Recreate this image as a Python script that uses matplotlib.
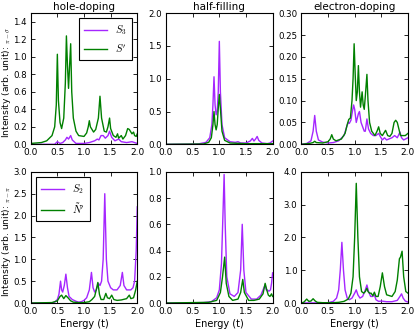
import matplotlib
matplotlib.use('Agg')
import matplotlib.pyplot as plt

# ---- top row: pi-sigma ----
# hole-doping
hd_s3_x = [0.0, 0.45, 0.5, 0.55, 0.6, 0.65, 0.68, 0.71, 0.75, 0.78, 0.85, 1.0, 1.1, 1.2, 1.25, 1.28,
           1.32, 1.36, 1.4, 1.45, 1.48, 1.52, 1.58, 1.65, 1.7, 1.8, 1.9, 1.95, 2.0]
hd_s3_y = [0.0, 0.0, 0.03, 0.01, 0.02, 0.05, 0.08, 0.06, 0.1, 0.05, 0.01, 0.01, 0.02, 0.04, 0.06, 0.05,
           0.1, 0.1, 0.07, 0.1, 0.15, 0.08, 0.04, 0.06, 0.03, 0.02, 0.03, 0.02, 0.01]
hd_sp_x = [0.0, 0.2, 0.3, 0.4, 0.45, 0.48, 0.5, 0.52, 0.55, 0.58, 0.62, 0.65, 0.67, 0.69, 0.71, 0.73,
           0.75, 0.77, 0.8, 0.85, 0.9, 1.0, 1.05, 1.08, 1.1, 1.12, 1.15, 1.18, 1.22, 1.27, 1.3, 1.33,
           1.38, 1.42, 1.45, 1.48, 1.5, 1.55, 1.6, 1.63, 1.65, 1.7, 1.73, 1.78, 1.82, 1.85, 1.9, 1.93,
           1.95, 1.98, 2.0]
hd_sp_y = [0.01, 0.02, 0.04, 0.1, 0.2, 0.45, 1.03, 0.5, 0.25, 0.18, 0.3, 0.7, 1.24, 0.9, 0.64, 0.9,
           1.15, 0.6, 0.3, 0.15, 0.1, 0.09, 0.13, 0.2, 0.27, 0.2, 0.17, 0.14, 0.17, 0.3, 0.55, 0.3,
           0.15, 0.14, 0.2, 0.3, 0.18, 0.1, 0.08, 0.12, 0.07, 0.1, 0.06, 0.1, 0.18, 0.17, 0.12, 0.14,
           0.1, 0.09, 0.12]

# half-filling
hf_s3_x = [0.0, 0.6, 0.75, 0.82, 0.86, 0.88, 0.9, 0.92, 0.94, 0.96, 0.98, 1.0, 1.02, 1.05, 1.1, 1.2,
           1.3, 1.35, 1.4, 1.5, 1.58, 1.62, 1.65, 1.68, 1.71, 1.74, 1.8, 1.9, 1.95, 2.0]
hf_s3_y = [0.0, 0.005, 0.03, 0.1, 0.3, 0.6, 1.03, 0.6, 0.45, 0.5, 0.8, 1.57, 0.8, 0.3, 0.1, 0.04,
           0.03, 0.04, 0.02, 0.02, 0.05, 0.09, 0.05, 0.08, 0.12, 0.06, 0.02, 0.01, 0.02, 0.05]
hf_sp_x = [0.0, 0.7, 0.8, 0.85, 0.88, 0.9, 0.92, 0.94, 0.96, 0.98, 1.0, 1.02, 1.05, 1.1, 1.2, 1.5,
           2.0]
hf_sp_y = [0.0, 0.005, 0.03, 0.1, 0.3, 0.5, 0.3, 0.22, 0.3, 0.55, 0.76, 0.55, 0.2, 0.06, 0.02, 0.01,
           0.01]

# electron-doping
ed_s3_x = [0.0, 0.1, 0.18, 0.22, 0.25, 0.28, 0.32, 0.4, 0.5, 0.6, 0.7, 0.8, 0.85, 0.88, 0.9, 0.93,
           0.95, 0.98, 1.0, 1.03, 1.07, 1.09, 1.12, 1.15, 1.18, 1.2, 1.23, 1.26, 1.3, 1.35, 1.4, 1.45,
           1.48, 1.52, 1.56, 1.6, 1.7, 1.75, 1.8, 1.85, 1.88, 1.92, 2.0]
ed_s3_y = [0.0, 0.002, 0.008, 0.03, 0.066, 0.03, 0.01, 0.005, 0.003, 0.004, 0.008, 0.02, 0.04, 0.05,
           0.048, 0.055, 0.07, 0.09, 0.08, 0.05, 0.07, 0.075, 0.05, 0.04, 0.03, 0.03, 0.058, 0.035,
           0.025, 0.02, 0.02, 0.025, 0.018, 0.01, 0.015, 0.01, 0.015, 0.02, 0.015, 0.028, 0.015, 0.01,
           0.015]
ed_sp_x = [0.0, 0.15, 0.22, 0.25, 0.28, 0.4, 0.5, 0.54, 0.57, 0.6, 0.65, 0.75, 0.82, 0.86, 0.89,
           0.92, 0.95, 0.97, 0.99, 1.01, 1.03, 1.05, 1.07, 1.09, 1.11, 1.14, 1.16, 1.18, 1.2, 1.23,
           1.25, 1.28, 1.32, 1.38, 1.42, 1.45, 1.48, 1.52, 1.58, 1.62, 1.66, 1.7, 1.74, 1.77, 1.8,
           1.83, 1.86, 1.9, 1.95, 2.0]
ed_sp_y = [0.0, 0.002, 0.004, 0.007, 0.004, 0.003, 0.006, 0.012, 0.022, 0.012, 0.008, 0.012, 0.025,
           0.045, 0.057, 0.06, 0.1, 0.15, 0.23, 0.16, 0.1, 0.12, 0.18, 0.12, 0.085, 0.12, 0.09, 0.08,
           0.11, 0.16, 0.1, 0.05, 0.03, 0.02, 0.03, 0.04, 0.025, 0.02, 0.032, 0.02, 0.018, 0.025, 0.05,
           0.055, 0.05, 0.035, 0.02, 0.02, 0.02, 0.025]

# ---- bottom row: pi-pi ----
hd_s2_x = [0.0, 0.4, 0.45, 0.5, 0.53, 0.56, 0.58, 0.6, 0.63, 0.66, 0.69, 0.72, 0.78, 0.85, 0.9, 0.95,
           1.0, 1.05, 1.1, 1.14, 1.17, 1.2, 1.23, 1.27, 1.3, 1.33, 1.36, 1.39, 1.42, 1.45, 1.5, 1.55,
           1.62, 1.68, 1.72, 1.75, 1.8, 1.85, 1.88, 1.92, 1.95, 1.98, 2.0]
hd_s2_y = [0.0, 0.005, 0.02, 0.08, 0.2, 0.5, 0.3, 0.25, 0.4, 0.66, 0.35, 0.15, 0.08, 0.04, 0.02, 0.03,
           0.06, 0.12, 0.3, 0.7, 0.35, 0.25, 0.3, 0.45, 0.4, 0.5, 1.0, 2.5, 1.0, 0.5, 0.35, 0.3, 0.3,
           0.4, 0.7, 0.4, 0.3, 0.3, 0.3, 0.35, 0.5, 1.2, 2.2]
hd_np_x = [0.0, 0.4, 0.5, 0.55, 0.58, 0.62, 0.66, 0.7, 0.75, 0.8, 0.9, 1.0, 1.1, 1.15, 1.2, 1.23,
           1.26, 1.29, 1.32, 1.37, 1.41, 1.44, 1.48, 1.52, 1.56, 1.62, 1.7, 1.8, 1.85, 1.88, 1.93,
           1.97, 2.0]
hd_np_y = [0.0, 0.01, 0.05, 0.15, 0.18, 0.1, 0.17, 0.12, 0.05, 0.02, 0.01, 0.01, 0.03, 0.08, 0.15,
           0.3, 0.47, 0.2, 0.08, 0.08, 0.22, 0.12, 0.1, 0.18, 0.08, 0.06, 0.07, 0.1, 0.18, 0.1, 0.12,
           0.3, 0.5]

hf_s2_x = [0.0, 0.7, 0.85, 0.95, 1.0, 1.04, 1.07, 1.09, 1.11, 1.14, 1.2, 1.28, 1.35, 1.4, 1.43, 1.46,
           1.5, 1.6, 1.7, 1.78, 1.82, 1.86, 1.88, 1.9, 1.93, 1.96, 1.98, 2.0]
hf_s2_y = [0.0, 0.003, 0.01, 0.04, 0.1, 0.3, 0.7, 0.98, 0.6, 0.2, 0.07, 0.05, 0.08, 0.25, 0.6, 0.25,
           0.08, 0.03, 0.03, 0.06, 0.1, 0.14, 0.1, 0.1, 0.09, 0.1, 0.15, 0.23]
hf_np_x = [0.0, 0.8, 0.95, 1.02, 1.06, 1.1, 1.13, 1.18, 1.25, 1.35, 1.4, 1.44, 1.47, 1.55, 1.65, 1.75,
           1.82, 1.86, 1.89, 1.92, 1.95, 1.98, 2.0]
hf_np_y = [0.0, 0.005, 0.02, 0.08, 0.2, 0.35, 0.15, 0.05, 0.02, 0.03, 0.08, 0.18, 0.08, 0.02, 0.02,
           0.03, 0.07, 0.15, 0.1, 0.06, 0.05, 0.07, 0.05]

ed_s2_x = [0.0, 0.3, 0.5, 0.6, 0.66, 0.7, 0.73, 0.76, 0.79, 0.82, 0.86, 0.9, 0.95, 1.0, 1.03, 1.06,
           1.1, 1.15, 1.2, 1.23, 1.26, 1.3, 1.34, 1.37, 1.4, 1.45, 1.5, 1.55, 1.6, 1.7, 1.8, 1.85,
           1.88, 1.91, 1.95, 2.0]
ed_s2_y = [0.0, 0.003, 0.01, 0.05, 0.15, 0.4, 1.0, 1.85, 1.0, 0.4, 0.15, 0.1, 0.15, 0.3, 0.4, 0.25,
           0.15, 0.2, 0.4, 0.55, 0.35, 0.2, 0.2, 0.25, 0.1, 0.05, 0.06, 0.05, 0.04, 0.04, 0.08, 0.2,
           0.28, 0.15, 0.06, 0.03]
ed_np_x = [0.0, 0.05, 0.1, 0.14, 0.18, 0.22, 0.26, 0.3, 0.4, 0.6, 0.7, 0.8, 0.88, 0.93, 0.97, 1.0,
           1.03, 1.06, 1.09, 1.13, 1.17, 1.2, 1.23, 1.25, 1.28, 1.31, 1.34, 1.37, 1.4, 1.44, 1.48,
           1.52, 1.56, 1.6, 1.7, 1.76, 1.8, 1.84, 1.86, 1.89, 1.92, 1.96, 2.0]
ed_np_y = [0.0, 0.03, 0.12, 0.05, 0.06, 0.13, 0.06, 0.02, 0.01, 0.01, 0.02, 0.05, 0.12, 0.3, 0.8,
           2.0, 3.65, 2.0, 0.8, 0.35, 0.3, 0.35, 0.45, 0.35, 0.3, 0.3, 0.22, 0.33, 0.2, 0.2, 0.5,
           0.92, 0.5, 0.25, 0.2, 0.35, 0.7, 1.35, 1.4, 1.58, 0.8, 0.35, 0.3]

titles = ['hole-doping', 'half-filling', 'electron-doping']
ylims_top = [1.5, 2.0, 0.3]
ylims_bot = [3.0, 1.0, 4.0]

purple = '#a526ff'
green = '#008000'

plt.rcParams['mathtext.fontset'] = 'cm'
plt.rcParams['xtick.direction'] = 'in'
plt.rcParams['ytick.direction'] = 'in'
plt.rcParams['xtick.top'] = True
plt.rcParams['ytick.right'] = True
plt.rcParams['xtick.major.size'] = 3
plt.rcParams['ytick.major.size'] = 3
plt.rcParams['xtick.labelsize'] = 6.5
plt.rcParams['ytick.labelsize'] = 6.2
plt.rcParams['axes.linewidth'] = 0.8

fig, axes = plt.subplots(2, 3, figsize=(4.15, 3.29), dpi=100)
fig.subplots_adjust(left=0.074, right=0.983, top=0.960, bottom=0.079, wspace=0.27, hspace=0.21)

top = [(hd_s3_x, hd_s3_y, hd_sp_x, hd_sp_y),
       (hf_s3_x, hf_s3_y, hf_sp_x, hf_sp_y),
       (ed_s3_x, ed_s3_y, ed_sp_x, ed_sp_y)]
bot = [(hd_s2_x, hd_s2_y, hd_np_x, hd_np_y),
       (hf_s2_x, hf_s2_y, hf_np_x, hf_np_y),
       (ed_s2_x, ed_s2_y, ed_np_x, ed_np_y)]

for i in range(3):
    ax = axes[0, i]
    px, py, gx, gy = top[i]
    ax.plot(px, py, color=purple, lw=1, label='$S_3$')
    ax.plot(gx, gy, color=green, lw=1, label="$S'$")
    ax.set_ylim(0, ylims_top[i])
    ax.set_title(titles[i], fontsize=7.5, pad=2)

    ax = axes[1, i]
    px, py, gx, gy = bot[i]
    ax.plot(px, py, color=purple, lw=1, label='$S_2$')
    ax.plot(gx, gy, color=green, lw=1, label=r"$\tilde{N}'$")
    ax.set_ylim(0, ylims_bot[i])
    ax.set_xlabel('Energy (t)', fontsize=7, labelpad=2)

for ax in axes.flat:
    ax.set_xlim(0, 2)
    ax.set_xticks([0.0, 0.5, 1.0, 1.5, 2.0])
    ax.xaxis.set_major_formatter(matplotlib.ticker.FormatStrFormatter('%.1f'))
    ax.tick_params(axis='x', pad=3, width=0.6)
    ax.tick_params(axis='y', pad=3, width=0.6)

axes[0, 0].set_yticks([0.0, 0.2, 0.4, 0.6, 0.8, 1.0, 1.2, 1.4])
axes[0, 0].yaxis.set_major_formatter(matplotlib.ticker.FormatStrFormatter('%.1f'))
axes[0, 1].yaxis.set_major_formatter(matplotlib.ticker.FormatStrFormatter('%.1f'))
axes[0, 2].set_yticks([0.0, 0.05, 0.1, 0.15, 0.2, 0.25, 0.3])
axes[0, 2].yaxis.set_major_formatter(matplotlib.ticker.FormatStrFormatter('%.2f'))
for ax in axes[1]:
    ax.yaxis.set_major_formatter(matplotlib.ticker.FormatStrFormatter('%.1f'))

axes[0, 0].set_ylabel(r'Intensity (arb. unit): $_{\pi - \sigma}$', fontsize=6.6)
axes[1, 0].set_ylabel(r'Intensity (arb. unit): $_{\pi - \pi}$', fontsize=6.6)
axes[0, 0].yaxis.set_label_coords(-0.17, 0.47)
axes[1, 0].yaxis.set_label_coords(-0.17, 0.47)

for ax, loc in [(axes[0, 0], 'upper right'), (axes[1, 0], 'upper left')]:
    leg = ax.legend(loc=loc, fontsize=7.5, fancybox=False, framealpha=1, edgecolor='black',
                    handlelength=2.2, borderpad=0.5, labelspacing=0.5)
    leg.get_frame().set_linewidth(0.8)

fig.savefig('out.png', dpi=100)
